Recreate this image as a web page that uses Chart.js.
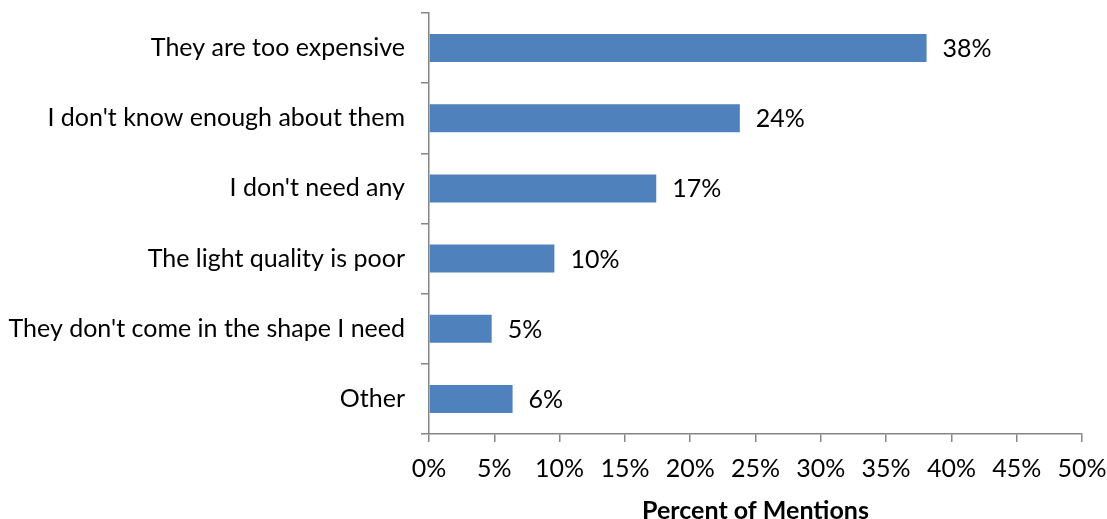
<!DOCTYPE html>
<html>
<head>
<meta charset="utf-8">
<script src="https://cdn.jsdelivr.net/npm/chart.js@4/dist/chart.umd.min.js"></script>
<style>
  html, body { margin: 0; padding: 0; background: #fff; }
  #wrap { width: 1107px; height: 519px; }
</style>
</head>
<body>
<div id="wrap"><canvas id="c" width="1107" height="519"></canvas></div>
<script>
// Reasons given for not buying, share of mentions (%)
const reasons = [
  "They are too expensive",
  "I don't know enough about them",
  "I don't need any",
  "The light quality is poor",
  "They don't come in the shape I need",
  "Other"
];
const mentionShare = [38.1, 23.8, 17.4, 9.6, 4.8, 6.4];
const axisTicks = [0, 5, 10, 15, 20, 25, 30, 35, 40, 45, 50];
const axisTitle = "Percent of Mentions";

const FONT = "Lato";
const FONT_SIZE = 25;
const AXIS_GREY = "#868686";
const BAR_BLUE = "#4F81BD";

// Writes each bar's rounded value just past its end
const valueLabels = {
  id: "valueLabels",
  afterDatasetsDraw(chart) {
    const ctx = chart.ctx;
    const meta = chart.getDatasetMeta(0);
    ctx.save();
    ctx.font = FONT_SIZE + "px " + FONT;
    ctx.fillStyle = "#000";
    ctx.textAlign = "left";
    ctx.textBaseline = "middle";
    meta.data.forEach((bar, i) => {
      ctx.fillText(Math.round(mentionShare[i]) + "%", bar.x + 16, bar.y + 1);
    });
    ctx.restore();
  }
};

new Chart(document.getElementById("c"), {
  type: "bar",
  data: {
    labels: reasons,
    datasets: [{
      data: mentionShare,
      backgroundColor: BAR_BLUE,
      borderWidth: 0,
      barPercentage: 0.4,
      categoryPercentage: 1.0
    }]
  },
  options: {
    indexAxis: "y",
    responsive: false,
    animation: false,
    layout: { padding: { top: 13, right: 25, left: 0, bottom: 0 } },
    plugins: {
      legend: { display: false },
      tooltip: { enabled: false }
    },
    scales: {
      y: {
        afterFit(scale) {
          scale.width = 429;
          scale.paddingTop = 0;
          scale.paddingBottom = 0;
        },
        grid: {
          drawOnChartArea: false,
          tickLength: 8,
          color: AXIS_GREY,
          lineWidth: 1.5
        },
        border: { color: AXIS_GREY, width: 1.5 },
        ticks: {
          color: "#000",
          padding: 16,
          font: { family: FONT, size: FONT_SIZE }
        }
      },
      x: {
        min: 0,
        max: 50,
        afterBuildTicks(scale) {
          scale.ticks = axisTicks.map(v => ({ value: v }));
        },
        afterFit(scale) {
          scale.height = 85;
          scale.paddingLeft = 0;
          scale.paddingRight = 0;
        },
        grid: {
          drawOnChartArea: false,
          tickLength: 8,
          color: AXIS_GREY,
          lineWidth: 1.5
        },
        border: { color: AXIS_GREY, width: 1.5 },
        ticks: {
          color: "#000",
          padding: 12,
          maxRotation: 0,
          font: { family: FONT, size: FONT_SIZE },
          callback: v => v + "%"
        },
        title: {
          display: true,
          text: axisTitle,
          color: "#000",
          font: { family: FONT, size: FONT_SIZE, weight: "bold" },
          padding: { top: 0, bottom: -7 }
        }
      }
    }
  },
  plugins: [valueLabels]
});
</script>
</body>
</html>
